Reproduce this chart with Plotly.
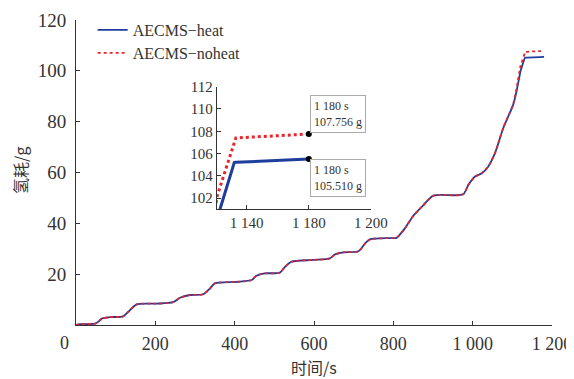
import plotly.graph_objects as go

# time (s)
time_s = [0, 10, 48, 58, 65, 86, 119, 132, 153, 203, 245, 262, 287, 321, 338, 350,
          405, 443, 455, 476, 514, 527, 544, 598, 640, 653, 674, 712, 729, 741, 792,
          808, 829, 850, 876, 901, 976, 989, 1006, 1023, 1039, 1056, 1077, 1102,
          1110, 1121, 1123, 1132, 1133, 1180]
# hydrogen consumption (g)
heat_g = [0, 0.3, 0.5, 1.5, 2.5, 3.1, 3.4, 5.2, 8.1, 8.4, 9.0, 10.7, 11.8, 12.1, 14.4, 16.4,
          17.0, 17.7, 19.4, 20.3, 20.6, 22.9, 24.9, 25.6, 26.2, 27.8, 28.6, 29.0, 32.1, 33.7, 34.2,
          34.3, 38.0, 42.9, 47.2, 50.9, 51.4, 55.1, 58.4, 59.7, 62.3, 67.5, 77.4, 86.6,
          91.5, 100.1, 101.1, 105.2, 105.22, 105.51]
noheat_g = [0, 0.3, 0.5, 1.5, 2.5, 3.1, 3.4, 5.2, 8.1, 8.4, 9.0, 10.7, 11.8, 12.1, 14.4, 16.4,
            17.0, 17.7, 19.4, 20.3, 20.6, 22.9, 24.9, 25.6, 26.2, 27.8, 28.6, 29.0, 32.1, 33.7, 34.2,
            34.3, 38.0, 42.9, 47.2, 50.9, 51.4, 55.1, 58.4, 59.7, 62.3, 67.5, 77.5, 86.9,
            92.6, 102.2, 103.1, 107.15, 107.4, 107.756]

main_xticks = [200, 400, 600, 800, 1000, 1200]
main_xtext = ["200", "400", "600", "800", "1 000", "1 200"]
main_yticks = [20, 40, 60, 80, 100, 120]
inset_xticks = [1140, 1180, 1220]
inset_xtext = ["1 140", "1 180", "1 200"]
inset_yticks = [102, 104, 106, 108, 110, 112]
end_t = [1180, 1180]
end_v = [107.756, 105.510]

BLUE = "#1f3d9c"
RED = "#e8252b"
AX = "#333333"
SERIF = "Liberation Serif"
CJK = "Noto Sans CJK SC"

fig = go.Figure()
fig.add_trace(go.Scatter(x=time_s, y=heat_g, mode="lines", name="AECMS−heat", legend="legend",
                         line=dict(color=BLUE, width=1.8, shape="spline", smoothing=0.7)))
fig.add_trace(go.Scatter(x=time_s, y=noheat_g, mode="lines", name="AECMS−noheat", legend="legend2",
                         line=dict(color=RED, width=1.8, dash="dot", shape="spline", smoothing=0.7)))
# inset
fig.add_trace(go.Scatter(x=time_s, y=heat_g, mode="lines", showlegend=False,
                         line=dict(color=BLUE, width=3), xaxis="x2", yaxis="y2"))
fig.add_trace(go.Scatter(x=time_s, y=noheat_g, mode="lines", showlegend=False,
                         line=dict(color=RED, width=3, dash="dot"), xaxis="x2", yaxis="y2"))
fig.add_trace(go.Scatter(x=end_t, y=end_v, mode="markers", showlegend=False,
                         marker=dict(color="black", size=6), xaxis="x2", yaxis="y2",
                         cliponaxis=False))

axis_common = dict(showline=True, linecolor=AX, linewidth=1, ticks="inside", ticklen=4,
                   tickcolor=AX, showgrid=False, zeroline=False, automargin=False)
inset_common = dict(showline=True, linecolor=AX, linewidth=1, ticks="inside", ticklen=4,
                    tickcolor=AX, showgrid=False, zeroline=False, automargin=False,
                    tickfont=dict(family=SERIF, size=15, color="#333"))
legend_common = dict(xanchor="left", yanchor="middle", bgcolor="rgba(0,0,0,0)",
                     font=dict(family=SERIF, size=16, color="#333"))

# page has an 8px body margin: figure is drawn offset by (8, 8)
fig.update_layout(
    width=566, height=371,
    margin=dict(l=68, r=22, t=12, b=54, autoexpand=False),
    paper_bgcolor="white", plot_bgcolor="white",
    xaxis=dict(range=[0, 1200], tickvals=main_xticks, ticktext=main_xtext,
               ticklabelstandoff=2, tickfont=dict(family=SERIF, size=18, color="#333"),
               **axis_common),
    yaxis=dict(range=[0, 120], tickvals=main_yticks, ticklabelstandoff=5,
               tickfont=dict(family=SERIF, size=19, color="#333"), **axis_common),
    xaxis2=dict(domain=[0.2956, 0.6197], anchor="y2", range=[1120.7, 1220],
                tickvals=inset_xticks, ticktext=inset_xtext, **inset_common),
    yaxis2=dict(domain=[0.3793, 0.7813], anchor="x2", range=[101, 112],
                tickvals=inset_yticks, **inset_common),
    legend=dict(x=0.035, y=(325 - 30) / 305, **legend_common),
    legend2=dict(x=0.035, y=(325 - 53) / 305, **legend_common),
    annotations=[
        dict(text="1 180 s<br>107.756 g", xref="x2", yref="y2", x=1181.0, y=111.26,
             xanchor="left", yanchor="top", align="left", showarrow=False,
             bordercolor="#aaaaaa", borderwidth=1, borderpad=3, bgcolor="white",
             font=dict(family=SERIF, size=12, color="#333")),
        dict(text="1 180 s<br>105.510 g", xref="x2", yref="y2", x=1181.0, y=105.5,
             xanchor="left", yanchor="top", align="left", showarrow=False,
             bordercolor="#aaaaaa", borderwidth=1, borderpad=3, bgcolor="white",
             font=dict(family=SERIF, size=12, color="#333")),
        dict(text="0", xref="paper", yref="paper", x=-0.025, y=-0.06,
             xanchor="center", yanchor="middle", showarrow=False,
             font=dict(family=SERIF, size=18, color="#333")),
        dict(text="时间/s", xref="paper", yref="paper", x=0.5, y=-0.138,
             xanchor="center", yanchor="middle", showarrow=False,
             font=dict(family=CJK, size=16, color="#333")),
        dict(text="氢耗/g", xref="paper", yref="paper", x=-0.118, y=0.508, textangle=-90,
             xanchor="center", yanchor="middle", showarrow=False,
             font=dict(family=CJK, size=16, color="#333")),
    ],
)

fig.write_html("out.html")
